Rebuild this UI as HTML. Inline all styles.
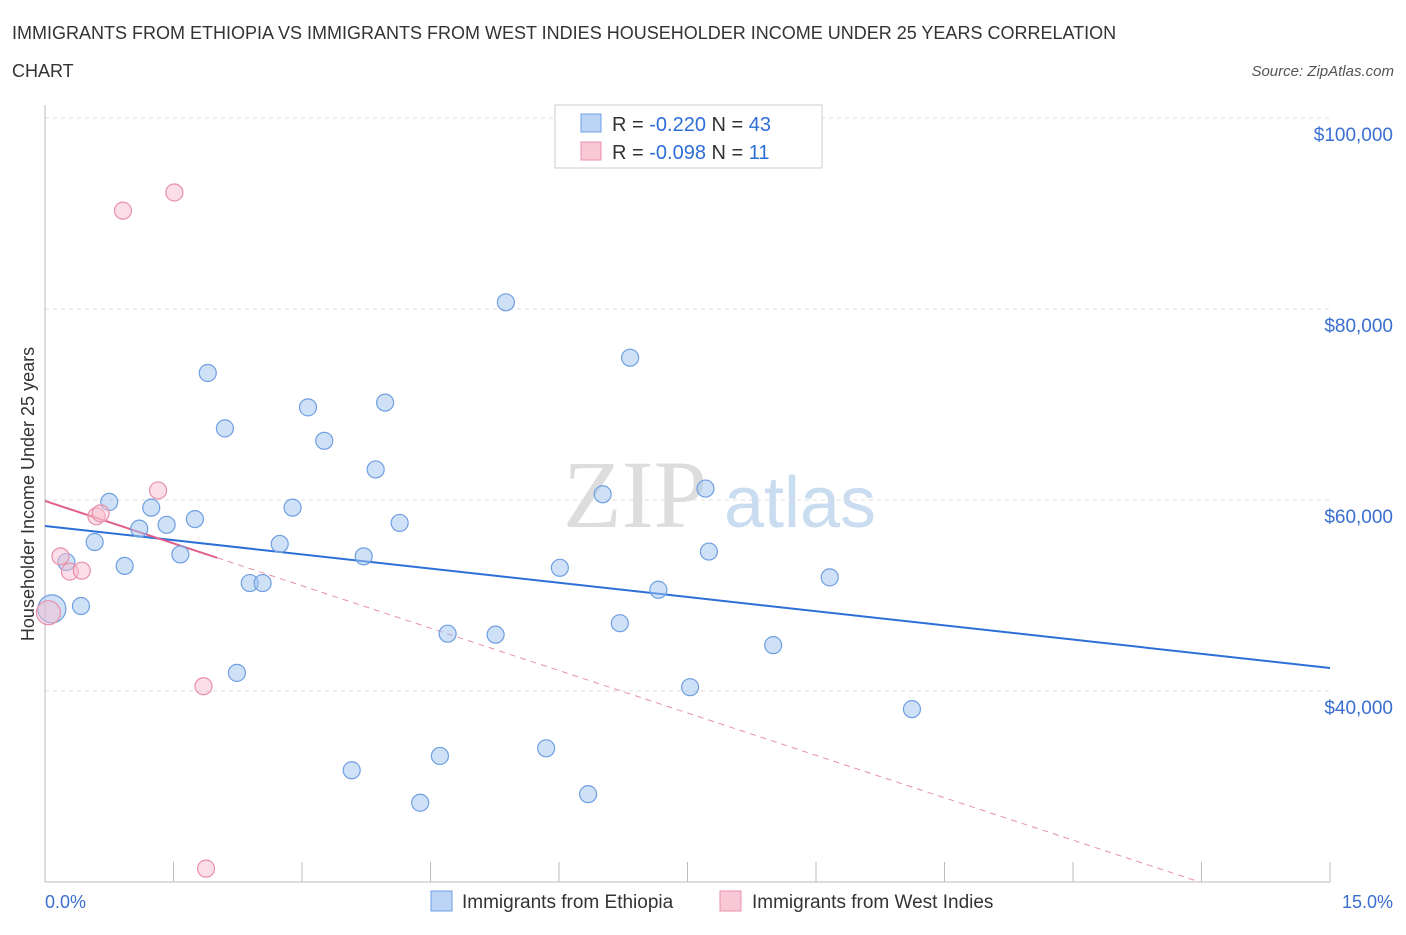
<!DOCTYPE html>
<html><head><meta charset="utf-8"><style>
body{margin:0;background:#fff;font-family:"Liberation Sans",sans-serif;}
</style></head><body>
<svg id="chart" width="1406" height="930" xmlns="http://www.w3.org/2000/svg" style="font-family:'Liberation Sans',sans-serif">
<text x="12" y="39" font-size="18" fill="#333">IMMIGRANTS FROM ETHIOPIA VS IMMIGRANTS FROM WEST INDIES HOUSEHOLDER INCOME UNDER 25 YEARS CORRELATION</text>
<text x="12" y="77" font-size="18" fill="#333">CHART</text>
<text x="1394" y="76" font-size="15" fill="#555" font-style="italic" text-anchor="end">Source: ZipAtlas.com</text>
<g><text x="635" y="527" font-size="96" fill="#ddd" font-family="'Liberation Serif',serif" text-anchor="middle">ZIP</text><text x="800" y="527" font-size="72" fill="#c9dcf0" text-anchor="middle">atlas</text></g>
<g id="grid"></g><g id="axes"></g><g id="trends"></g><g id="points"></g>
<text transform="translate(34,494) rotate(-90)" font-size="18" fill="#333" text-anchor="middle">Householder Income Under 25 years</text>
<text x="45" y="908" font-size="18" fill="#3a6fd0">0.0%</text>
<text x="1393" y="908" font-size="18" fill="#3a6fd0" text-anchor="end">15.0%</text>
<g>
<rect x="555" y="105" width="267" height="63" fill="#fff" stroke="#ccc"/>
<rect x="581" y="114" width="20" height="18" fill="#bcd4f6" stroke="#6f9fe0"/>
<rect x="581" y="142" width="20" height="18" fill="#f9c8d6" stroke="#e890aa"/>
<text x="612" y="131" font-size="20" fill="#333">R = <tspan fill="#2c6fd6">-0.220</tspan>   N = <tspan fill="#2c6fd6">43</tspan></text>
<text x="612" y="159" font-size="20" fill="#333">R = <tspan fill="#2c6fd6">-0.098</tspan>   N =  <tspan fill="#2c6fd6"> 11</tspan></text>
</g>
<g>
<rect x="431" y="891" width="21" height="20" fill="#bcd4f6" stroke="#6f9fe0"/>
<text x="462" y="908" font-size="19" fill="#333">Immigrants from Ethiopia</text>
<rect x="720" y="891" width="21" height="20" fill="#f9c8d6" stroke="#e890aa"/>
<text x="752" y="908" font-size="19" fill="#333">Immigrants from West Indies</text>
</g>
</svg>
<script>
const yTicks=[40000,60000,80000,100000];
const yTickLabels=["$40,000","$60,000","$80,000","$100,000"];
const ethX=[0.08,0.25,0.42,0.58,0.75,0.93,1.10,1.24,1.42,1.58,1.75,1.90,2.10,2.24,2.39,2.54,2.74,2.89,3.07,3.26,3.58,3.72,3.86,3.97,4.14,4.38,4.61,4.70,5.26,5.38,5.85,6.01,6.34,6.51,6.71,6.83,7.16,7.53,7.71,7.75,8.50,9.16,10.12];
const ethY=[48600,53500,48900,55600,59800,53100,57000,59200,57400,54300,58000,73300,67500,41900,51300,51300,55400,59200,69700,66200,31700,54100,63200,70200,57600,28300,33200,46000,45900,80700,34000,52900,29200,60600,47100,74900,50600,40400,61200,54600,44800,51900,38100];
const wiX=[0.04,0.18,0.29,0.43,0.60,0.65,0.91,1.32,1.51,1.85,1.88];
const wiY=[48200,54100,52500,52600,58300,58600,90300,61000,92200,40500,21400];
const ethTrend=[57280,42410];
const wiTrend=[59900,2960];
const X=v=>45+v/15*1285;
const Y=v=>882-(v-20000)/20000*191;
const NS="http://www.w3.org/2000/svg";
function mk(p,t,a){const e=document.createElementNS(NS,t);for(const k in a)e.setAttribute(k,a[k]);document.getElementById(p).appendChild(e);return e;}
yTicks.forEach((t,i)=>{
 const l=mk('grid','line',{x1:45,x2:1330,y1:Y(t),y2:Y(t),stroke:'#ddd','stroke-dasharray':'4,4'});
 
 
 const tx=mk('grid','text',{x:1393,y:Y(t)+23,'font-size':19,fill:'#3a6fd0','text-anchor':'end'});
 tx.textContent=yTickLabels[i];
 
 
});
const ax=mk('axes','line',{x1:45,x2:1330,y1:882,y2:882,stroke:'#bbb'});


const ay=mk('axes','line',{x1:45,x2:45,y1:105,y2:882,stroke:'#bbb'});


for(let i=0;i<=10;i++){
 const t=mk('axes','line',{x1:X(i*1.5),x2:X(i*1.5),y1:862,y2:882,stroke:'#bbb'});
 
 
}
const tb=mk('trends','line',{x1:X(0),y1:Y(ethTrend[0]),x2:X(15),y2:Y(ethTrend[1]),stroke:'#2c6fd6','stroke-width':2});


const xe=(wiTrend[0]-20000)/wiTrend[1];
const td=mk('trends','line',{x1:X(2.01),y1:Y(wiTrend[0]-wiTrend[1]*2.01),x2:X(xe),y2:Y(20000),stroke:'#e890aa','stroke-width':1,'stroke-dasharray':'6,5'});


const tp=mk('trends','line',{x1:X(0),y1:Y(wiTrend[0]),x2:X(2.01),y2:Y(wiTrend[0]-wiTrend[1]*2.01),stroke:'#e0608a','stroke-width':2});


ethX.forEach((x,i)=>{
 const c=mk('points','circle',{cx:X(x),cy:Y(ethY[i]),r:i==0?14:8.5,fill:'rgba(160,196,240,0.5)',stroke:'#6f9fe0','stroke-width':1.2});
 
 
});
wiX.forEach((x,i)=>{
 const c=mk('points','circle',{cx:X(x),cy:Y(wiY[i]),r:i==0?12:8.5,fill:'rgba(248,190,208,0.5)',stroke:'#e890aa','stroke-width':1.2});
 
 
});
</script>
</body></html>
